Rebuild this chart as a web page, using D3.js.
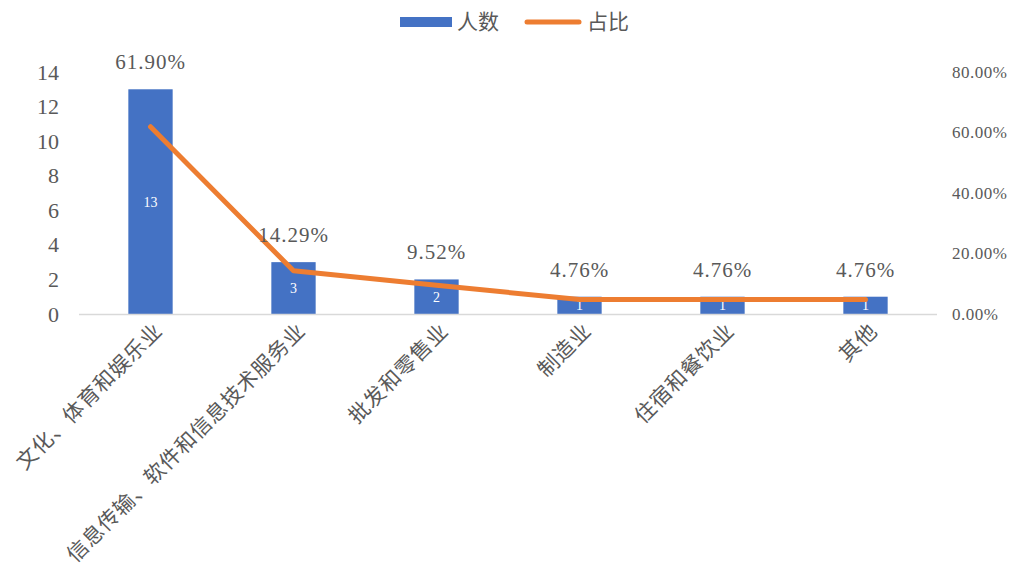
<!DOCTYPE html>
<html>
<head>
<meta charset="utf-8">
<script src="https://cdn.jsdelivr.net/npm/d3@7"></script>
<style>
  body { margin: 0; background: #fff; }
  svg text { font-family: "Liberation Serif", "Noto Sans CJK SC", serif; fill: #595959; }
</style>
</head>
<body>
<svg></svg>
<script>
let categories = ["文化、体育和娱乐业", "信息传输、软件和信息技术服务业", "批发和零售业", "制造业", "住宿和餐饮业", "其他"];
let counts = [13, 3, 2, 1, 1, 1];
let shares = [0.6190, 0.1429, 0.0952, 0.0476, 0.0476, 0.0476];
let leftTicks = [0, 2, 4, 6, 8, 10, 12, 14];
let rightTicks = [0, 0.2, 0.4, 0.6, 0.8];

let width = 1013;
let height = 567;
let plotLeft = 79;
let plotRight = 937;
let plotTop = 72;
let plotBottom = 314;

let svg = d3.select("svg").attr("width", width).attr("height", height);

let xScale = d3.scaleBand()
               .domain(categories)
               .range([plotLeft, plotRight])
               .paddingInner(0.69)
               .paddingOuter(0.345);

let yScale = d3.scaleLinear().domain([0, 14]).range([plotBottom, plotTop]);
let y2Scale = d3.scaleLinear().domain([0, 0.8]).range([plotBottom, plotTop]);

let cx = (d) => xScale(d) + xScale.bandwidth() / 2;

// left axis
let yAxis = d3.axisLeft(yScale).tickValues(leftTicks).tickSize(0).tickPadding(0);
svg.append("g")
   .attr("transform", "translate(59,0)")
   .call(yAxis)
   .call(g => g.select(".domain").remove())
   .selectAll("text")
   .style("font-size", "22px")
   .attr("fill", "#595959");

// right axis
let y2Axis = d3.axisRight(y2Scale).tickValues(rightTicks).tickSize(0).tickPadding(0)
               .tickFormat(d3.format(".2%"));
svg.append("g")
   .attr("transform", "translate(952,0)")
   .call(y2Axis)
   .call(g => g.select(".domain").remove())
   .selectAll("text")
   .style("font-size", "17px")
   .style("letter-spacing", "0.5px")
   .attr("fill", "#595959");

// bars
svg.selectAll("rect.bar")
   .data(counts)
   .enter()
   .append("rect")
   .attr("class", "bar")
   .attr("x", (d, i) => xScale(categories[i]))
   .attr("width", xScale.bandwidth())
   .attr("y", d => yScale(d))
   .attr("height", d => plotBottom - yScale(d))
   .attr("fill", "#4472C4");

// baseline
svg.append("line")
   .attr("x1", plotLeft).attr("x2", plotRight)
   .attr("y1", plotBottom + 0.5).attr("y2", plotBottom + 0.5)
   .attr("stroke", "#D9D9D9").attr("stroke-width", 1.5);

// count labels inside bars
svg.selectAll("text.count")
   .data(counts)
   .enter()
   .append("text")
   .attr("class", "count")
   .attr("x", (d, i) => cx(categories[i]))
   .attr("y", d => (yScale(d) + plotBottom) / 2)
   .attr("dy", "0.35em")
   .attr("text-anchor", "middle")
   .style("font-size", "14px")
   .style("fill", "#ffffff")
   .text(d => d);

// share line
let line = d3.line()
             .x((d, i) => cx(categories[i]))
             .y(d => y2Scale(d));
svg.append("path")
   .datum(shares)
   .attr("d", line)
   .attr("fill", "none")
   .attr("stroke", "#ED7D31")
   .attr("stroke-width", 5)
   .attr("stroke-linecap", "round")
   .attr("stroke-linejoin", "round");

// share labels
svg.selectAll("text.share")
   .data(shares)
   .enter()
   .append("text")
   .attr("class", "share")
   .attr("x", (d, i) => cx(categories[i]))
   .attr("y", (d, i) => Math.min(yScale(counts[i]), y2Scale(d)) - 20)
   .attr("text-anchor", "middle")
   .style("font-size", "21px")
   .style("letter-spacing", "1px")
   .text(d => d3.format(".2%")(d));

// category labels, rotated
svg.selectAll("text.cat")
   .data(categories)
   .enter()
   .append("text")
   .attr("class", "cat")
   .attr("transform", d => "translate(" + (cx(d) + 8) + "," + (plotBottom + 13) + ") rotate(-45)")
   .attr("text-anchor", "end")
   .attr("dy", "0.35em")
   .style("font-size", "21px")
   .style("letter-spacing", "0.8px")
   .text(d => d);

// legend
let legend = svg.append("g");
legend.append("rect")
      .attr("x", 400).attr("y", 17).attr("width", 52).attr("height", 10)
      .attr("fill", "#4472C4");
legend.append("text")
      .attr("x", 457).attr("y", 22).attr("dy", "0.35em")
      .style("font-size", "21px")
      .text("人数");
legend.append("line")
      .attr("x1", 527).attr("x2", 579).attr("y1", 22).attr("y2", 22)
      .attr("stroke", "#ED7D31").attr("stroke-width", 5)
      .attr("stroke-linecap", "round");
legend.append("text")
      .attr("x", 587).attr("y", 22).attr("dy", "0.35em")
      .style("font-size", "21px")
      .text("占比");
</script>
</body>
</html>
